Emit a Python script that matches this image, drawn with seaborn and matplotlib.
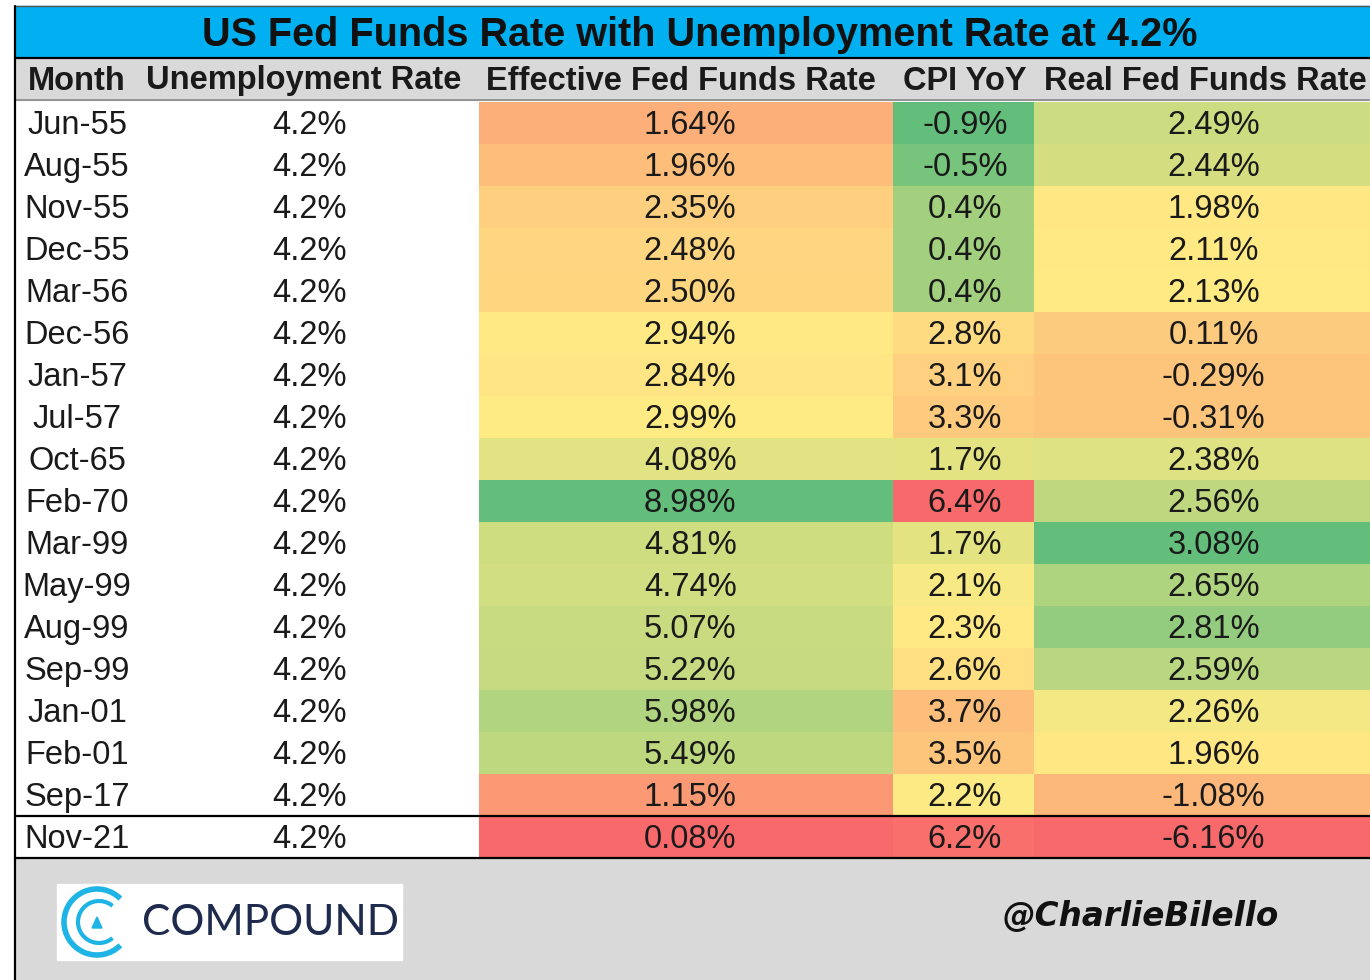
# %%
import numpy as np
import matplotlib
import matplotlib.pyplot as plt
from matplotlib.colors import LinearSegmentedColormap
from matplotlib.patches import Rectangle, Arc, Polygon
import seaborn as sns

months = ['Jun-55', 'Aug-55', 'Nov-55', 'Dec-55', 'Mar-56', 'Dec-56', 'Jan-57', 'Jul-57',
          'Oct-65', 'Feb-70', 'Mar-99', 'May-99', 'Aug-99', 'Sep-99', 'Jan-01', 'Feb-01',
          'Sep-17', 'Nov-21']
unemployment = [4.2, 4.2, 4.2, 4.2, 4.2, 4.2, 4.2, 4.2, 4.2,
                4.2, 4.2, 4.2, 4.2, 4.2, 4.2, 4.2, 4.2, 4.2]
eff_rate = [1.64, 1.96, 2.35, 2.48, 2.50, 2.94, 2.84, 2.99, 4.08,
            8.98, 4.81, 4.74, 5.07, 5.22, 5.98, 5.49, 1.15, 0.08]
cpi_yoy = [-0.9, -0.5, 0.4, 0.4, 0.4, 2.8, 3.1, 3.3, 1.7,
           6.4, 1.7, 2.1, 2.3, 2.6, 3.7, 3.5, 2.2, 6.2]
real_rate = [2.49, 2.44, 1.98, 2.11, 2.13, 0.11, -0.29, -0.31, 2.38,
             2.56, 3.08, 2.65, 2.81, 2.59, 2.26, 1.96, -1.08, -6.16]

TITLE = "US Fed Funds Rate with Unemployment Rate at 4.2%"
headers = ['Month', 'Unemployment Rate', 'Effective Fed Funds Rate', 'CPI YoY', 'Real Fed Funds Rate']

W, H = 1370, 980
ROW_TOP, ROW_H = 102, 42
N = len(months)
# column edges in pixels
COLS = [15, 140, 479, 893, 1034, 1386]

DATA_FONT = ['Liberation Sans Narrow', 'Liberation Sans', 'DejaVu Sans']
HEAD_FONT = ['Liberation Sans', 'DejaVu Sans']
TXT = '#1a1a1a'
DATA_FS = 23.5

sns.set_theme(style='white')
matplotlib.rcParams['font.family'] = HEAD_FONT

cmap = LinearSegmentedColormap.from_list('xl_rdylgn', ['#F8696B', '#FFEB84', '#63BE7B'])


def excel_scale(vals, reverse=False):
    # excel 3-colour scale: min / 50th percentile / max
    v = np.asarray(vals, float)
    lo, mid, hi = v.min(), np.median(v), v.max()
    s = np.where(v <= mid, 0.5 * (v - lo) / (mid - lo), 0.5 + 0.5 * (v - mid) / (hi - mid))
    return 1 - s if reverse else s


fig = plt.figure(figsize=(W / 100, H / 100), dpi=100)


def px_axes(x0, y0, x1, y1):
    return fig.add_axes([x0 / W, 1 - y1 / H, (x1 - x0) / W, (y1 - y0) / H])


bg = px_axes(0, 0, W, H)
bg.set_xlim(0, W)
bg.set_ylim(H, 0)
bg.axis('off')

# title band, header, footer
bg.add_patch(Rectangle((15, 6), W, 52, color='#00B0F0', zorder=1))
bg.text(700, 35, TITLE, ha='center', va='center', fontsize=28.5, fontweight='bold', color='#111111')
bg.add_patch(Rectangle((15, 59), W, 41, color='#D9D9D9', zorder=1))
bg.add_patch(Rectangle((15, 858), W, H, color='#D9D9D9', zorder=1))
head_x = [77, 304, 681, 965, 1205]
for hx, h in zip(head_x, headers):
    bg.text(hx, 81, h, ha='center', va='center', fontsize=23.5, fontweight='bold', color=TXT)

# plain (uncoloured) columns
for i, (m, u) in enumerate(zip(months, unemployment)):
    yc = ROW_TOP + ROW_H * i + ROW_H / 2 + 2.5
    bg.text(77, yc, m, ha='center', va='center', fontsize=DATA_FS, family=DATA_FONT, color=TXT)
    bg.text(310, yc, f'{u:.1f}%', ha='center', va='center', fontsize=DATA_FS, family=DATA_FONT, color=TXT)

# coloured columns drawn as one-column heatmaps
col_specs = [
    (eff_rate, [f'{v:.2f}%' for v in eff_rate], False),
    (cpi_yoy, [f'{v:.1f}%' for v in cpi_yoy], True),
    (real_rate, [f'{v:.2f}%' for v in real_rate], False),
]
for k, (vals, labels, rev) in enumerate(col_specs):
    ax = px_axes(COLS[k + 2], ROW_TOP, COLS[k + 3], ROW_TOP + ROW_H * N)
    sns.heatmap(excel_scale(vals, rev).reshape(-1, 1), cmap=cmap, vmin=0, vmax=1,
                annot=np.array(labels).reshape(-1, 1), fmt='', cbar=False,
                xticklabels=False, yticklabels=False, ax=ax,
                annot_kws=dict(fontsize=DATA_FS, family=DATA_FONT, color=TXT))
    for t in ax.texts:
        tx, ty = t.get_position()
        t.set_position((tx + 0.01, ty + 2.5 / ROW_H))
    ax.set_xlabel('')
    ax.set_ylabel('')

# borders on top
ov = px_axes(0, 0, W, H)
ov.set_xlim(0, W)
ov.set_ylim(H, 0)
ov.axis('off')
ov.patch.set_alpha(0)
ov.plot([15, W], [6, 6], color='#555555', lw=1)
ov.plot([15, W], [58.5, 58.5], color='black', lw=1.6)
ov.plot([15, W], [100.5, 100.5], color='#888888', lw=1.2)
ov.plot([15, W], [816, 816], color='black', lw=1.6)
ov.plot([15, W], [858, 858], color='black', lw=1.6)
ov.plot([15, 15], [6, H], color='black', lw=1.6)

# compound logo
ov.add_patch(Rectangle((57, 884), 345, 76, color='white', zorder=2))
ov.add_patch(Arc((97, 922), 66, 66, theta1=45, theta2=315, color='#1FB4E6', lw=4, zorder=3))
ov.add_patch(Arc((99, 922), 42, 42, theta1=50, theta2=310, color='#1FB4E6', lw=3, zorder=3))
ov.add_patch(Polygon([[92, 928], [102, 928], [97, 917]], closed=True, color='#1FB4E6', zorder=3))
ov.text(142, 923, 'COMPOUND', ha='left', va='center', fontsize=30.5, family=['Lato', 'DejaVu Sans'],
        color='#1E2B4D', zorder=3)

ov.text(1141, 916, '@CharlieBilello', ha='center', va='center', fontsize=23.5, fontweight='bold',
        style='italic', family=['DejaVu Sans'], color='#111111')

plt.savefig('out.png', dpi=100)
